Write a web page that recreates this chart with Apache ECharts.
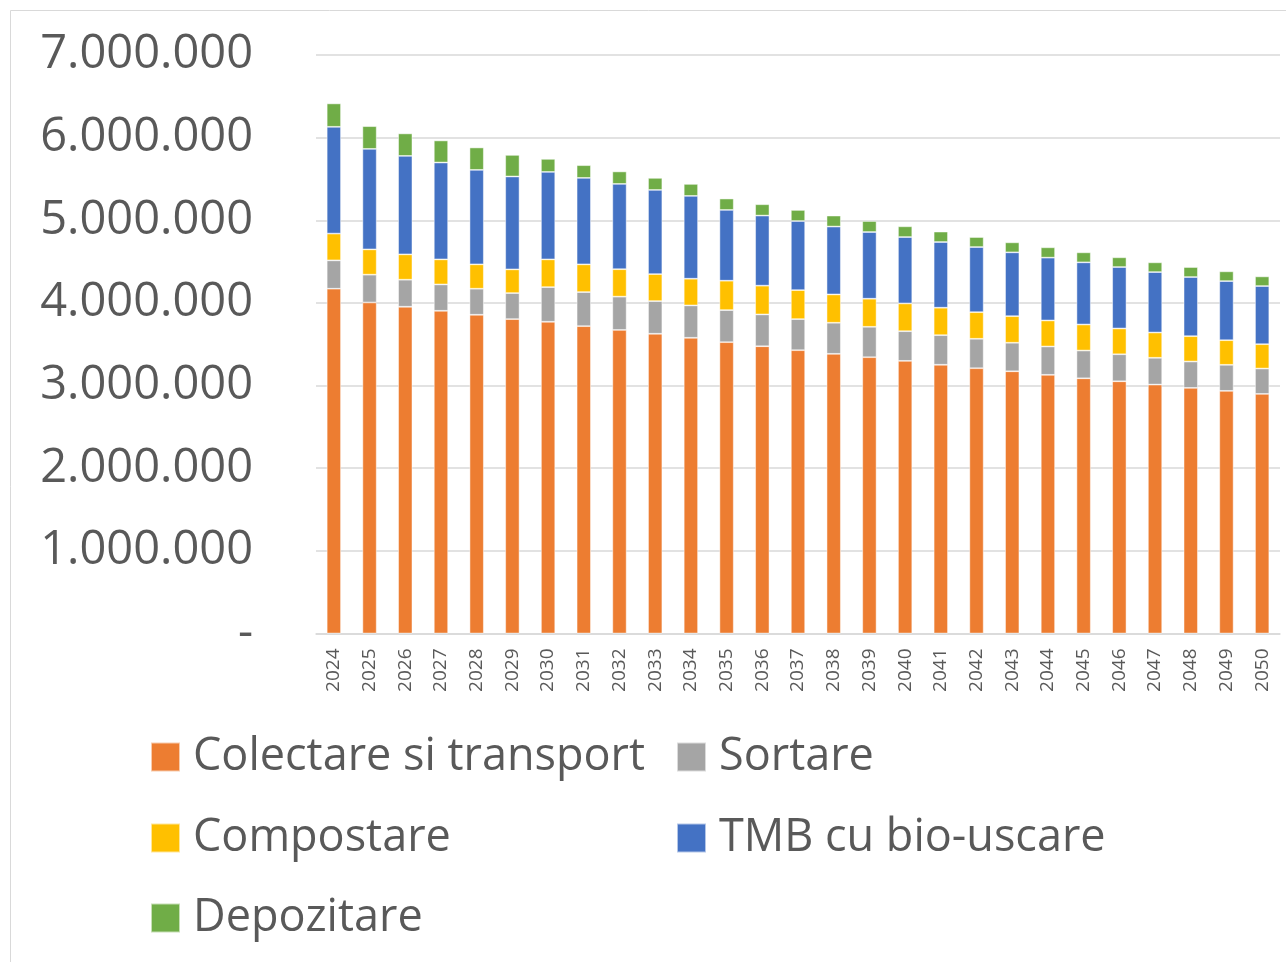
<!DOCTYPE html>
<html>
<head>
<meta charset="utf-8">
<script src="https://cdn.jsdelivr.net/npm/echarts@6/dist/echarts.min.js"></script>
<style>
  html, body { margin: 0; padding: 0; background: #fff; }
  #chart { width: 1286px; height: 962px; }
</style>
</head>
<body>
<div id="chart"></div>
<script>
var years = ['2024', '2025', '2026', '2027', '2028', '2029', '2030', '2031', '2032', '2033', '2034', '2035', '2036', '2037',
  '2038', '2039', '2040', '2041', '2042', '2043', '2044', '2045', '2046', '2047', '2048', '2049', '2050'];

// valori estimate din grafic
var colectare = [4172000, 4006000, 3954000, 3905000, 3857000, 3804000, 3772000, 3719000, 3673000, 3627000, 3578000, 3525000, 3476000, 3428000,
  3384000, 3343000, 3299000, 3252000, 3210000, 3173000, 3130000, 3088000, 3052000, 3012000, 2972000, 2936000, 2899000];
var sortare = [343000, 336000, 327000, 319000, 315000, 315000, 419000, 412000, 403000, 395000, 392000, 388000, 385000, 376000,
  376000, 368000, 359000, 358000, 356000, 345000, 343000, 336000, 327000, 324000, 319000, 315000, 307000];
var compostare = [324000, 306000, 307000, 303000, 295000, 287000, 336000, 336000, 332000, 327000, 323000, 356000, 348000, 351000,
  343000, 340000, 336000, 332000, 322000, 322000, 315000, 315000, 312000, 306000, 307000, 298000, 295000];
var tmb = [1292000, 1216000, 1191000, 1172000, 1143000, 1124000, 1058000, 1046000, 1032000, 1018000, 1002000, 856000, 848000, 836000,
  821000, 807000, 803000, 795000, 788000, 772000, 760000, 752000, 743000, 731000, 715000, 715000, 703000];
var depozitare = [283000, 275000, 272000, 267000, 271000, 261000, 158000, 154000, 151000, 146000, 145000, 138000, 137000, 134000,
  133000, 133000, 130000, 126000, 121000, 121000, 125000, 121000, 118000, 118000, 121000, 118000, 117000];

var yTicks = { min: 0, max: 7000000, step: 1000000 };

var txtColor = '#595959';
var fontName = 'Open Sans';

function fmtNum(v) {
  if (v === 0) return '-';
  return String(v).replace(/\B(?=(\d{3})+(?!\d))/g, '.');
}

function makeSeries(name, data, color) {
  return {
    name: name,
    type: 'bar',
    stack: 'total',
    barWidth: '40%',
    data: data,
    itemStyle: { color: color, borderColor: 'rgba(255,255,255,0.6)', borderWidth: 0.8 },
    emphasis: { disabled: true }
  };
}

function makeLegend(name, left, centerY) {
  return {
    data: [name],
    left: left,
    top: centerY - 25,
    padding: 0,
    itemWidth: 29,
    itemHeight: 29,
    icon: 'rect',
    textStyle: { color: txtColor, fontSize: 45, fontFamily: fontName, lineHeight: 50, padding: [0, 0, 0, 8] }
  };
}

var myChart = echarts.init(document.getElementById('chart'));
var option = {
  backgroundColor: '#fff',
  animation: false,
  textStyle: { fontFamily: fontName },
  graphic: [{
    type: 'rect',
    shape: { x: 10.5, y: 10.5, width: 1400, height: 1000 },
    style: { fill: 'none', stroke: '#d9d9d9', lineWidth: 1 },
    silent: true
  }],
  legend: [
    makeLegend('Colectare si transport', 150, 757),
    makeLegend('Sortare', 676, 757),
    makeLegend('Compostare', 150, 838),
    makeLegend('TMB cu bio-uscare', 676, 838),
    makeLegend('Depozitare', 150, 918)
  ],
  grid: { left: 316, right: 6, top: 55, bottom: 328.5, containLabel: false },
  xAxis: {
    type: 'category',
    data: years,
    axisTick: { show: false },
    axisLine: { lineStyle: { color: '#d9d9d9', width: 1.5 } },
    axisLabel: { rotate: 90, interval: 0, color: txtColor, fontSize: 19, fontFamily: fontName, margin: 15 }
  },
  yAxis: {
    type: 'value',
    min: yTicks.min,
    max: yTicks.max,
    interval: yTicks.step,
    axisLine: { show: false },
    axisTick: { show: false },
    splitLine: { lineStyle: { color: '#d9d9d9', width: 1.5 } },
    axisLabel: { color: txtColor, fontSize: 47, fontFamily: fontName, margin: 63, formatter: fmtNum }
  },
  series: [
    makeSeries('Colectare si transport', colectare, '#ED7D31'),
    makeSeries('Sortare', sortare, '#A5A5A5'),
    makeSeries('Compostare', compostare, '#FFC000'),
    makeSeries('TMB cu bio-uscare', tmb, '#4472C4'),
    makeSeries('Depozitare', depozitare, '#70AD47')
  ]
};
myChart.setOption(option);
</script>
</body>
</html>
